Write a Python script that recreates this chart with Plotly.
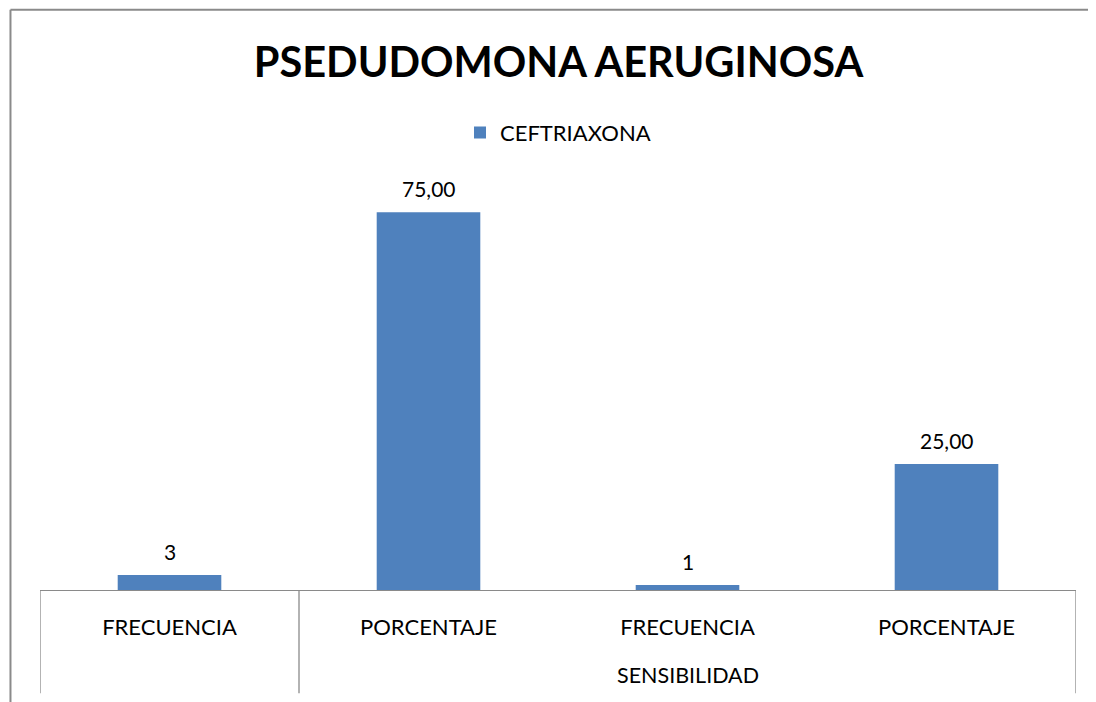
import plotly.graph_objects as go

categories = ["FRECUENCIA", "PORCENTAJE", "FRECUENCIA", "PORCENTAJE"]
group_label = "SENSIBILIDAD"
series_name = "CEFTRIAXONA"
values = [3, 75, 1, 25]
value_labels = ["3", "75,00", "1", "25,00"]
title_text = "PSEDUDOMONA AERUGINOSA"

FONT = "Lato, Calibri, Carlito, sans-serif"
BAR = "#4F81BD"
GRID = "#8A8A8A"

x_idx = list(range(len(categories)))

fig = go.Figure()
fig.add_trace(go.Bar(
    x=x_idx, y=values, name=series_name, marker=dict(color=BAR, line=dict(width=0)),
    showlegend=True,
))

for xi, v, lab in zip(x_idx, values, value_labels):
    fig.add_annotation(x=xi, y=v, xref="x", yref="y", text=lab, showarrow=False,
                       yanchor="bottom", yshift=9, font=dict(family=FONT, size=21, color="#000"))

# group label
fig.add_annotation(x=2, y=-0.21, xref="x", yref="paper", text=group_label, showarrow=False,
                   yanchor="middle", font=dict(family=FONT, size=21.5, color="#000"))

# dividers
for xb in [-0.5, 0.5, 3.5]:
    fig.add_shape(type="line", xref="x", yref="paper", x0=xb, x1=xb, y0=0, y1=-0.256,
                  line=dict(color=GRID, width=1.3))

# outer chart border (left and top)
fig.add_shape(type="line", xref="paper", yref="paper", x0=-0.0285, x1=-0.0285, y0=1.44, y1=-0.3,
              line=dict(color=GRID, width=2))
fig.add_shape(type="line", xref="paper", yref="paper", x0=-0.0285, x1=1.03, y0=1.44, y1=1.44,
              line=dict(color=GRID, width=2))

fig.update_layout(
    width=1088, height=694,
    margin=dict(l=32, r=20, t=179, b=112),
    paper_bgcolor="white", plot_bgcolor="white",
    title=dict(text="<b>" + title_text + "</b>", x=0.506, xanchor="center", y=0.922, yanchor="middle",
               font=dict(family=FONT, size=41.5, color="#000")),
    legend=dict(orientation="h", x=0.5, xanchor="center", y=1.135, yanchor="middle",
                font=dict(family=FONT, size=22, color="#000"), itemwidth=30),
    bargap=0.6,
    xaxis=dict(tickmode="array", tickvals=x_idx, ticktext=categories, range=[-0.5, 3.5],
               showline=True, linecolor=GRID, linewidth=1.3, showgrid=False, zeroline=False,
               ticks="outside", ticklen=17, tickcolor="rgba(0,0,0,0)",
               tickfont=dict(family=FONT, size=22, color="#000")),
    yaxis=dict(range=[0, 80], visible=False, showgrid=False, zeroline=False),
)

fig.write_html("out.html")
